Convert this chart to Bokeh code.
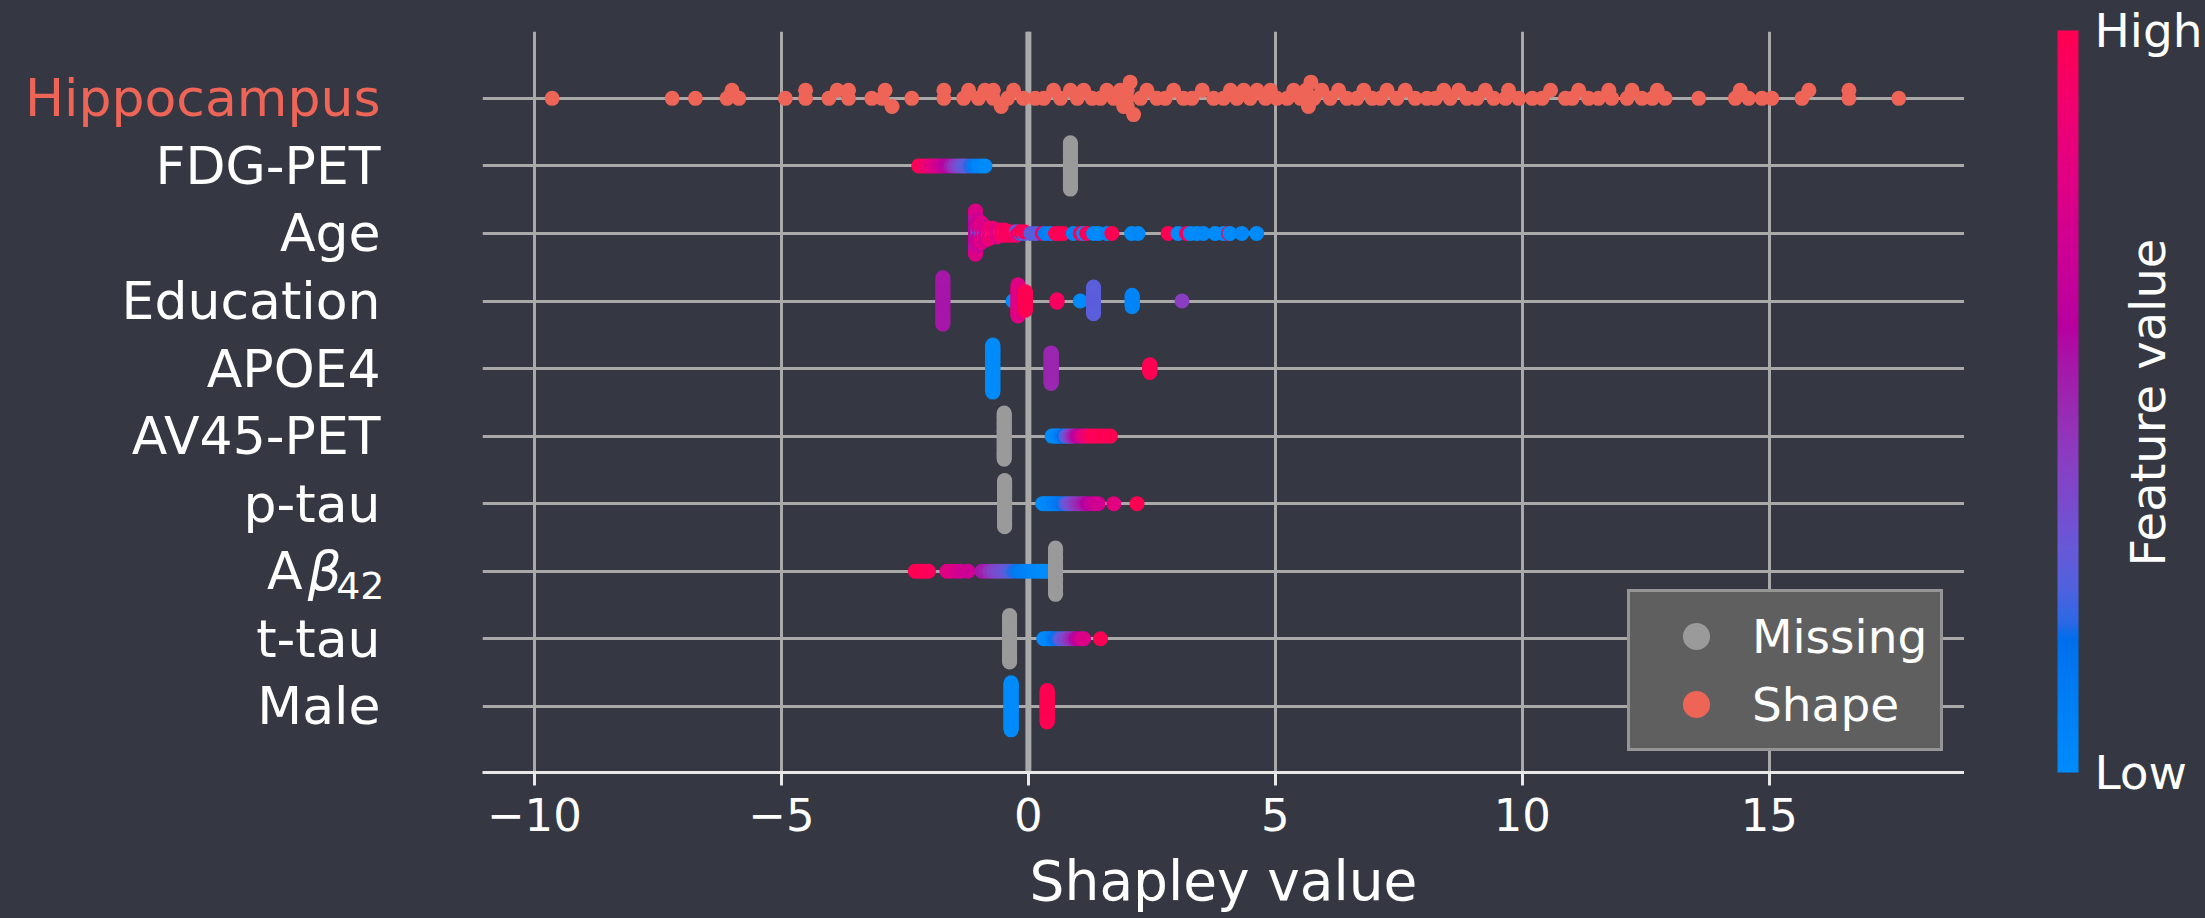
import numpy as np
from bokeh.plotting import figure
from bokeh.layouts import row
from bokeh.models import (Range1d, FixedTicker, LinearColorMapper, ColorBar,
                          Legend, LegendItem, Span, ColumnDataSource)
from bokeh.core.properties import value
from bokeh.embed import file_html
from bokeh.resources import INLINE

# ---------------- data ----------------
features = ["Male", "t-tau", "Aβ42", "p-tau", "AV45-PET", "APOE4",
            "Education", "Age", "FDG-PET", "Hippocampus"]
x_ticks = [-10, -5, 0, 5, 10, 15]
x_tick_labels = ["−10", "−5", "0", "5", "10", "15"]

hippo_shap = [-9.64, -7.21, -6.74, -6.10, -6.00, -5.86, -4.92, -4.51, -4.51, -4.04, -3.87,
              -3.64, -3.64, -3.17, -2.96, -2.90, -2.76, -2.36, -1.71, -1.71, -1.31, -1.21,
              -1.01, -0.88, -0.71, -0.71, -0.55, -0.42, -0.30, -0.10, 0.14, 0.31, 0.51, 0.65,
              0.85, 0.99, 1.12, 1.29, 1.46, 1.59, 1.73, 1.86, 1.93, 2.00, 2.00, 2.00, 2.06,
              2.13, 2.27, 2.40, 2.60, 2.77, 2.94, 3.14, 3.31, 3.52, 3.75, 3.95, 4.09, 4.22,
              4.36, 4.49, 4.63, 4.80, 4.90, 5.03, 5.24, 5.37, 5.51, 5.62, 5.67, 5.72, 5.78,
              5.94, 6.11, 6.28, 6.45, 6.65, 6.79, 6.96, 7.13, 7.26, 7.46, 7.63, 7.83, 8.07,
              8.24, 8.41, 8.54, 8.71, 8.88, 9.08, 9.25, 9.42, 9.66, 9.72, 9.93, 10.20, 10.40,
              10.57, 10.87, 11.01, 11.14, 11.34, 11.54, 11.75, 11.81, 12.12, 12.22, 12.42,
              12.63, 12.73, 12.89, 13.57, 14.31, 14.41, 14.58, 14.85, 15.05, 15.66, 15.80,
              16.61, 16.61, 17.62]

fdg_shap = [-2.22, -2.16, -2.10, -2.03, -1.97, -1.92, -1.86, -1.80, -1.74, -1.68, -1.62,
            -1.56, -1.50, -1.44, -1.38, -1.32, -1.26, -1.18, -1.10, -1.02, -0.95, -0.88]
fdg_val = [1.0, 0.98, 0.92, 0.88, 0.85, 0.80, 0.78, 0.72, 0.68, 0.62, 0.58,
           0.52, 0.45, 0.40, 0.35, 0.30, 0.26, 0.20, 0.10, 0.05, 0.02, 0.0]
fdg_n = [1] * len(fdg_shap)

age_shap = [-1.07, -1.07, -1.07, -1.02, -1.02, -0.95, -0.95, -0.88, -0.88, -0.80, -0.80,
            -0.72, -0.72, -0.64, -0.64, -0.56, -0.56, -0.48, -0.48, -0.40, -0.40, -0.32,
            -0.32, -0.24, -0.24, -0.16, -0.16, -0.08, -0.08,
            0.05, 0.15, 0.28, 0.34, 0.45, 0.55, 0.61, 0.71, 0.91, 1.05, 1.12, 1.18, 1.32,
            1.42, 1.59, 1.69, 2.09, 2.22, 2.83, 3.03, 3.20, 3.28, 3.41, 3.54, 3.78, 3.95,
            4.05, 4.08, 4.32, 4.62]
age_val = [0.66, 0.55, 0.78, 0.45, 0.70, 0.40, 0.80, 0.35, 0.75, 0.32, 0.85,
           0.30, 0.90, 0.35, 0.80, 0.28, 0.92, 0.30, 0.95, 0.25, 0.97, 0.22,
           0.95, 0.25, 0.90, 0.20, 1.00, 0.28, 0.98,
           0.28, 0.25, 0.95, 0.10, 0.05, 1.00, 0.98, 1.00, 0.05, 1.00, 0.0, 0.98, 0.02,
           0.0, 0.05, 1.00, 0.0, 0.02, 1.00, 0.0, 0.97, 0.0, 0.0, 0.02, 0.0, 0.0,
           1.00, 0.0, 0.02, 0.0]
age_n = [16, 6, 4, 6, 10, 5, 7, 4, 5, 3, 4,
         3, 3, 2, 3, 2, 2, 2, 2, 1, 2, 1,
         2, 2, 1, 1, 1, 1, 1] + [1] * 30

edu_shap = [-1.73, -0.31, -0.21, -0.06, 0.58, 1.05, 1.32, 2.10, 3.11]
edu_val = [0.55, 0.0, 0.80, 1.0, 0.95, 0.0, 0.27, 0.05, 0.42]
edu_n = [41, 1, 28, 17, 3, 1, 24, 11, 1]

apoe_shap = [-0.72, 0.46, 2.46]
apoe_val = [0.0, 0.5, 1.0]
apoe_n = [61, 40, 11]

av45_shap = [0.48, 0.52, 0.56, 0.60, 0.64, 0.68, 0.72, 0.76, 0.80, 0.85, 0.90, 0.95,
             1.00, 1.05, 1.10, 1.16, 1.22, 1.28, 1.34, 1.40, 1.48, 1.56, 1.66]
av45_val = [0.0, 0.0, 0.02, 0.05, 0.08, 0.12, 0.18, 0.26, 0.33, 0.40, 0.48, 0.55,
            0.62, 0.70, 0.78, 0.86, 0.92, 0.96, 1.0, 0.97, 1.0, 0.98, 1.0]
av45_n = [1] * len(av45_shap)

ptau_shap = [0.29, 0.33, 0.38, 0.43, 0.48, 0.53, 0.58, 0.63, 0.68, 0.73, 0.78, 0.84,
             0.90, 0.96, 1.02, 1.08, 1.14, 1.20, 1.27, 1.34, 1.41, 1.73, 2.20]
ptau_val = [0.0, 0.0, 0.02, 0.03, 0.05, 0.08, 0.10, 0.12, 0.15, 0.20, 0.28, 0.33,
            0.38, 0.43, 0.47, 0.50, 0.55, 0.60, 0.65, 0.68, 0.72, 0.82, 1.0]
ptau_n = [1] * len(ptau_shap)

abeta_shap = [-2.29, -2.22, -2.15, -2.08, -2.02, -1.65, -1.56, -1.44, -1.36, -1.22,
              -0.94, -0.86, -0.78, -0.70, -0.62, -0.54, -0.46, -0.38, -0.30, -0.22,
              -0.14, -0.06, 0.02, 0.10, 0.18, 0.26, 0.32, 0.38]
abeta_val = [1.0, 1.0, 0.98, 1.0, 0.97, 0.78, 0.80, 0.75, 0.72, 0.70,
             0.55, 0.52, 0.45, 0.40, 0.36, 0.34, 0.30, 0.25, 0.20, 0.12,
             0.10, 0.08, 0.05, 0.03, 0.02, 0.0, 0.0, 0.0]
abeta_n = [1] * len(abeta_shap)

ttau_shap = [0.31, 0.35, 0.40, 0.45, 0.50, 0.55, 0.60, 0.66, 0.72, 0.78, 0.84, 0.90,
             0.96, 1.02, 1.08, 1.12, 1.46]
ttau_val = [0.0, 0.0, 0.02, 0.05, 0.10, 0.15, 0.20, 0.28, 0.35, 0.38, 0.45, 0.50,
            0.58, 0.65, 0.72, 0.78, 1.0]
ttau_n = [1] * len(ttau_shap)

male_shap = [-0.35, 0.38]
male_val = [0.0, 1.0]
male_n = [61, 41]

missing_feature = ["FDG-PET", "AV45-PET", "p-tau", "Aβ42", "t-tau"]
missing_shap = [0.85, -0.49, -0.48, 0.55, -0.38]
missing_n = [41, 41, 41, 41, 41]

# ---------------- styling ----------------
BG = "#353842"
SALMON = "#ee6558"
GRAY = "#9a9a9a"
GRID = "#a9a9a9"
WHITE = "#ffffff"
FONT = "DejaVu Sans"

anchors = [(0.00, "#008BFB"), (0.10, "#007DF3"), (0.18, "#006EEC"), (0.20, "#2B68E6"),
           (0.25, "#5161DE"), (0.30, "#6659D7"), (0.35, "#764ECF"), (0.40, "#8443C6"),
           (0.45, "#9036BC"), (0.50, "#9B27B1"), (0.55, "#A616A9"), (0.60, "#B700A0"),
           (0.70, "#CC0094"), (0.80, "#E00084"), (0.90, "#F00070"), (1.00, "#FF0052")]


def hex2rgb(h):
    return [int(h[i:i + 2], 16) for i in (1, 3, 5)]


ap = np.array([a[0] for a in anchors])
ac = np.array([hex2rgb(a[1]) for a in anchors], float)
tt = np.linspace(0, 1, 256)
palette = ["#%02x%02x%02x" % tuple(int(round(np.interp(t, ap, ac[:, k]))) for k in range(3))
           for t in tt]
mapper = LinearColorMapper(palette=palette, low=0, high=1)


def swarm(xs, row_height=0.4, nbins=100):
    xs = np.asarray(xs, float)
    lo, hi = xs.min(), xs.max()
    quant = np.round(nbins * (xs - lo) / (hi - lo + 1e-8))
    inds = np.argsort(quant, kind="stable")
    ys = np.zeros(len(xs))
    layer, last = 0, None
    for i in inds:
        if quant[i] != last:
            layer = 0
        ys[i] = np.ceil(layer / 2) * ((layer % 2) * 2 - 1)
        layer += 1
        last = quant[i]
    ys *= 0.9 * (row_height / np.max(ys + 1))
    return ys


def expand(shap, val, n):
    xs, vs = [], []
    for s, v, k in zip(shap, val, n):
        xs += [s] * k
        vs += [v] * k
    return xs, vs


colored = {
    "FDG-PET": (fdg_shap, fdg_val, fdg_n),
    "Age": (age_shap, age_val, age_n),
    "Education": (edu_shap, edu_val, edu_n),
    "APOE4": (apoe_shap, apoe_val, apoe_n),
    "AV45-PET": (av45_shap, av45_val, av45_n),
    "p-tau": (ptau_shap, ptau_val, ptau_n),
    "Aβ42": (abeta_shap, abeta_val, abeta_n),
    "t-tau": (ttau_shap, ttau_val, ttau_n),
    "Male": (male_shap, male_val, male_n),
}

cx, cy, cv, mx, my = [], [], [], [], []
for name, (s, v, n) in colored.items():
    r = features.index(name)
    xs, vs = expand(s, v, n)
    ms = []
    if name in missing_feature:
        j = missing_feature.index(name)
        ms = [missing_shap[j]] * missing_n[j]
    ys = swarm(xs + ms)
    cx += xs
    cv += vs
    cy += list(r + ys[:len(xs)])
    mx += ms
    my += list(r + ys[len(xs):])

hy = list(features.index("Hippocampus") + swarm(hippo_shap))

# ---------------- layout geometry (px) ----------------
TOTAL_W, TOTAL_H = 2205, 918
LEFT_W, FRAME_W = 482, 1482
RIGHT_W = TOTAL_W - LEFT_W - FRAME_W
TOP_B, FRAME_H = 31, 741
BOT_B = TOTAL_H - TOP_B - FRAME_H

y_range = Range1d(-0.98, 9.99)
px_per_row = FRAME_H / (9.99 + 0.98)
BGSTYLE = {"background-color": BG}


def bare(w, xr, yr):
    f = figure(width=w, height=TOTAL_H, x_range=xr, y_range=yr, output_backend="svg",
               toolbar_location=None, title=None, x_axis_type=None, y_axis_type=None,
               background_fill_color=BG, border_fill_color=BG, outline_line_color=None,
               min_border_left=0, min_border_right=0, min_border_top=TOP_B,
               min_border_bottom=BOT_B, styles=BGSTYLE)
    return f


# ---------------- main panel ----------------
p = figure(width=FRAME_W, height=TOTAL_H, x_range=Range1d(-11.05, 18.95), y_range=y_range,
           output_backend="svg", toolbar_location=None, title=None,
           min_border_left=0, min_border_right=0, min_border_top=TOP_B,
           min_border_bottom=BOT_B, styles=BGSTYLE,
           background_fill_color=BG, border_fill_color=BG, outline_line_color=None)

p.yaxis.visible = False
p.ygrid.ticker = FixedTicker(ticks=list(range(len(features))))
p.ygrid.grid_line_color = GRID
p.ygrid.grid_line_width = 3
p.xgrid.ticker = FixedTicker(ticks=x_ticks)
p.xgrid.grid_line_color = GRID
p.xgrid.grid_line_width = 3

xa = p.xaxis[0]
xa.ticker = FixedTicker(ticks=x_ticks)
xa.major_label_overrides = {t: l for t, l in zip(x_ticks, x_tick_labels)}
xa.axis_line_color = "#e8e8e8"
xa.axis_line_width = 3
xa.major_tick_line_color = "#e8e8e8"
xa.major_tick_line_width = 3
xa.major_tick_out = 13
xa.major_tick_in = 0
xa.minor_tick_line_color = None
xa.major_label_text_font = FONT
xa.major_label_text_font_size = "45px"
xa.major_label_text_color = WHITE
xa.major_label_standoff = 12
xa.axis_label = "Shapley value"
xa.axis_label_standoff = 15
xa.axis_label_text_font = FONT
xa.axis_label_text_font_size = "55px"
xa.axis_label_text_font_style = "normal"
xa.axis_label_text_color = WHITE

p.add_layout(Span(location=0, dimension="height", line_color=GRID, line_width=6,
                  level="underlay"))

src_col = ColumnDataSource(dict(x=cx, y=cy, val=cv))
src_miss = ColumnDataSource(dict(x=mx, y=my))
src_hip = ColumnDataSource(dict(x=hippo_shap, y=hy))
r_col = p.scatter("x", "y", source=src_col, size=15, line_color=None,
                  fill_color={"field": "val", "transform": mapper})
r_miss = p.scatter("x", "y", source=src_miss, size=15, fill_color=GRAY, line_color=None)
r_hip = p.scatter("x", "y", source=src_hip, size=15, fill_color=SALMON, line_color=None)

legend = Legend(items=[LegendItem(label="Missing", renderers=[r_miss]),
                       LegendItem(label="Shape", renderers=[r_hip])],
                location="bottom_right", margin=21, padding=10, spacing=0,
                glyph_height=68, glyph_width=112, label_standoff=-8, label_width=178,
                label_text_font=FONT, label_text_font_size="47px", label_text_color=WHITE,
                background_fill_color="#5f5f5f", background_fill_alpha=1.0,
                border_line_color="#cccccc", border_line_width=3)
p.add_layout(legend)

# ---------------- left panel: feature names ----------------
left = bare(LEFT_W, Range1d(0, LEFT_W), y_range)
plain = [(n, i) for i, n in enumerate(features) if n != "Aβ42"]
left.text(x=[380] * len(plain), y=[i for _, i in plain], text=[n for n, _ in plain],
          text_color=[SALMON if n == "Hippocampus" else WHITE for n, _ in plain],
          text_align="right", text_baseline="middle", text_font=value(FONT),
          text_font_size="52px")
ab_row = features.index("Aβ42")
left.text(x=[302], y=[ab_row], text=["A"], text_color=WHITE,
          text_align="right", text_baseline="middle", text_font=value(FONT),
          text_font_size="52px")
left.text(x=[341], y=[ab_row], text=["β"], text_color=WHITE,
          text_align="right", text_baseline="middle", text_font=value(FONT),
          text_font_size="53px", text_font_style="italic")
left.text(x=[384], y=[ab_row - 14 / px_per_row], text=["42"], text_color=WHITE,
          text_align="right", text_baseline="middle", text_font=value(FONT),
          text_font_size="38px")

# ---------------- right panel: colour bar ----------------
right = bare(RIGHT_W, Range1d(0, RIGHT_W), Range1d(0, FRAME_H))
cb = ColorBar(color_mapper=mapper, orientation="vertical", location=(93, 0),
              width=21, height=FRAME_H + 1,
              padding=0, margin=0, ticker=FixedTicker(ticks=[0, 1]),
              major_label_overrides={0: "Low", 1: "High"},
              major_label_text_font=FONT, major_label_text_font_size="47px",
              major_label_text_color=WHITE, label_standoff=16,
              major_tick_line_color=None, major_tick_in=0, major_tick_out=0,
              minor_tick_line_color=None,
              background_fill_alpha=0, border_line_color=None, bar_line_color=None)
right.add_layout(cb)
right.text(x=[183], y=[TOP_B + FRAME_H - 402], text=["Feature value"], angle=np.pi / 2,
           text_align="center", text_baseline="middle", text_font=value(FONT),
           text_font_size="48px", text_color=WHITE)

layout = row(left, p, right, styles=BGSTYLE)
open("out.html", "w").write(file_html(layout, INLINE))
